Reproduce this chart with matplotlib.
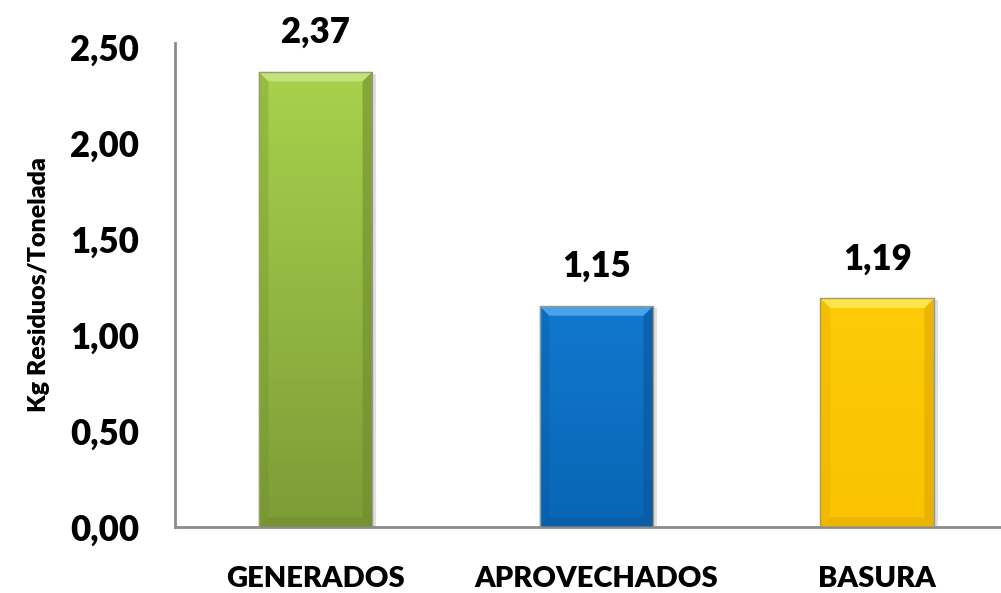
import numpy as np
import matplotlib.pyplot as plt
from matplotlib.patches import Polygon
from matplotlib.colors import LinearSegmentedColormap

categorias = ['GENERADOS', 'APROVECHADOS', 'BASURA']
valores = [2.37, 1.15, 1.19]
etiquetas = ['2,37', '1,15', '1,19']
ticks_y = [0.0, 0.5, 1.0, 1.5, 2.0, 2.5]
ticks_y_txt = ['0,00', '0,50', '1,00', '1,50', '2,00', '2,50']

# colores: arriba (claro), abajo (oscuro), borde superior, lado
colores = [('#a8d24c', '#7d9c37', '#c4e37a', '#6f8d2c'),
           ('#1178ce', '#0866b4', '#4aa3ea', '#0a56a0'),
           ('#fdcb08', '#f9c300', '#ffe54a', '#e0a800')]

plt.rcParams['font.family'] = ['Lato', 'DejaVu Sans']

fig = plt.figure(figsize=(10.01, 5.93), dpi=100)
ax = fig.add_axes([175 / 1001, 66 / 593, 826 / 1001, 484 / 593])

x = np.arange(len(categorias))
ancho = 0.405
ax.set_xlim(-0.5, 2.44)
ax.set_ylim(0, 2.52)

bars = ax.bar(x, valores, width=ancho, color='none', zorder=2)

bx = 0.035   # bisel horizontal
by = 0.05    # bisel vertical
for b, (c1, c2, c3, c4) in zip(bars, colores):
    x0, w, h = b.get_x(), b.get_width(), b.get_height()
    # sombra
    ax.add_patch(plt.Rectangle((x0 + 0.012, -0.01), w, h, color='#000000',
                               alpha=0.12, lw=0, zorder=1))
    # degradado vertical
    grad = np.linspace(0, 1, 100).reshape(-1, 1)
    cmap = LinearSegmentedColormap.from_list('g', [c2, c1])
    im = ax.imshow(grad, extent=(x0, x0 + w, 0, h), origin='lower',
                   cmap=cmap, aspect='auto', zorder=2)
    im.set_clip_path(plt.Rectangle((x0, 0), w, h, transform=ax.transData))
    # biseles
    ax.add_patch(Polygon([(x0, h), (x0 + w, h), (x0 + w - bx, h - by), (x0 + bx, h - by)],
                         closed=True, color=c3, lw=0, zorder=3))
    ax.add_patch(Polygon([(x0 + w, h), (x0 + w, 0), (x0 + w - bx, by), (x0 + w - bx, h - by)],
                         closed=True, color=c4, lw=0, alpha=0.6, zorder=3))
    ax.add_patch(Polygon([(x0, 0), (x0 + w, 0), (x0 + w - bx, by), (x0 + bx, by)],
                         closed=True, color=c4, lw=0, alpha=0.5, zorder=3))
    ax.add_patch(Polygon([(x0, h), (x0, 0), (x0 + bx, by), (x0 + bx, h - by)],
                         closed=True, color=c4, lw=0, alpha=0.3, zorder=3))
    ax.add_patch(plt.Rectangle((x0, 0), w, h, fill=False, ec='#9a9a80', lw=1, zorder=4))

for xi, v, t in zip(x, valores, etiquetas):
    ax.text(xi, v + 0.12, t, ha='center', va='bottom', fontsize=25,
            fontweight='heavy')

ax.set_yticks(ticks_y)
ax.set_yticklabels(ticks_y_txt, fontsize=25, fontweight='heavy')
ax.set_xticks(x)
ax.set_xticklabels(categorias, fontsize=21, fontweight='heavy')
ax.tick_params(axis='y', length=0, pad=26)
ax.tick_params(axis='x', length=0, pad=28)
ax.set_ylabel('Kg Residuos/Tonelada', fontsize=18, fontweight='heavy', labelpad=14)

for s in ['top', 'right']:
    ax.spines[s].set_visible(False)
for s in ['left', 'bottom']:
    ax.spines[s].set_color('#8c8c8c')
    ax.spines[s].set_linewidth(2)

fig.savefig('out.png', dpi=100)
